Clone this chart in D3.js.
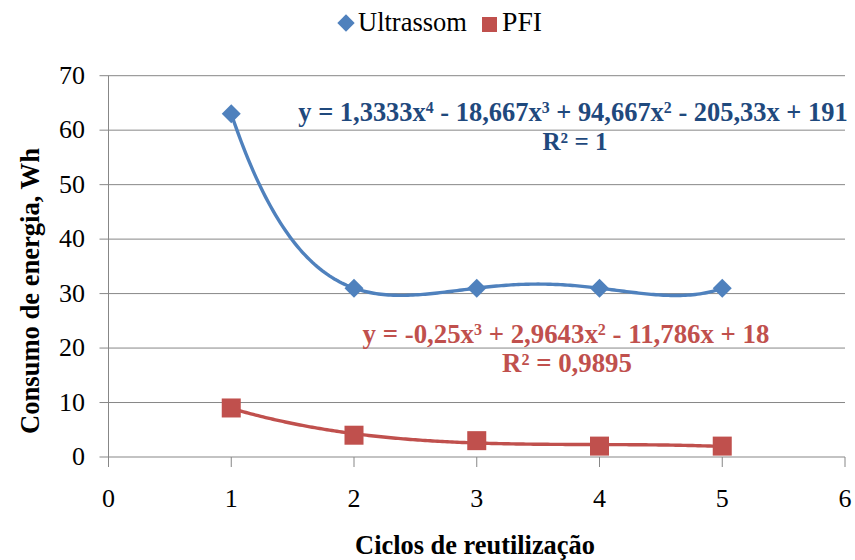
<!DOCTYPE html>
<html><head><meta charset="utf-8">
<script src="https://cdn.jsdelivr.net/npm/d3@7"></script>
<style>body{margin:0;background:#fff}svg{display:block}
text{font-family:"Liberation Serif","Times New Roman","DejaVu Serif",serif}</style>
</head><body>
<svg id="c" width="855" height="560"></svg>
<script>
const cycles = [1, 2, 3, 4, 5];
const ultrassom = [63, 31, 31, 31, 31];
const pfi = [9, 4, 3, 2, 2];
// trendline coefficients as shown in the chart equations (highest power first)
const ultraCoef = [1.3333, -18.667, 94.667, -205.33, 191];
const pfiCoef = [-0.25, 2.9643, -11.786, 18];
const xTicks = [0, 1, 2, 3, 4, 5, 6];
const yTicks = [0, 10, 20, 30, 40, 50, 60, 70];

function draw() {
const svg = d3.select("#c");
svg.selectAll("*").remove();
const x = d3.scaleLinear().domain([0, 6]).range([108.5, 845]);
const y = d3.scaleLinear().domain([0, 70]).range([457, 75.7]);
const grid = "#878787";

function fit(t, w, maxSize) {
  const cur = +t.attr("font-size");
  const len = t.node().getComputedTextLength();
  let s = cur * w / len;
  if (maxSize) s = Math.min(s, maxSize);
  t.attr("font-size", s);
  t.selectAll("tspan.sup").attr("font-size", s * 0.6);
  return t;
}

// common tick font size: "60" should be ~26px wide
const probe = svg.append("text").attr("font-size", 24).text("60");
const tickSize = Math.min(26, 24 * 26 / probe.node().getComputedTextLength());
probe.remove();

svg.append("g").selectAll("line").data(yTicks).join("line")
  .attr("x1", x(0) - 9).attr("x2", x(6))
  .attr("y1", d => y(d)).attr("y2", d => y(d))
  .attr("stroke", grid).attr("stroke-width", 1);
svg.append("line").attr("x1", x(0)).attr("x2", x(0)).attr("y1", y(70)).attr("y2", y(0)).attr("stroke", grid);
svg.append("g").selectAll("line").data(xTicks).join("line")
  .attr("x1", d => x(d)).attr("x2", d => x(d)).attr("y1", y(0)).attr("y2", y(0) + 10)
  .attr("stroke", grid);

svg.append("g").selectAll("text").data(yTicks).join("text")
  .attr("x", 85).attr("y", d => y(d) + 8)
  .attr("text-anchor", "end").attr("font-size", tickSize).attr("fill", "#000")
  .text(d => d);
svg.append("g").selectAll("text").data(xTicks).join("text")
  .attr("x", d => x(d)).attr("y", 507)
  .attr("text-anchor", "middle").attr("font-size", tickSize).attr("fill", "#000")
  .text(d => d);

fit(svg.append("text").attr("x", 475).attr("y", 554).attr("text-anchor", "middle")
  .attr("font-size", 24).attr("font-weight", "bold").text("Ciclos de reutilização"), 240);
fit(svg.append("text").attr("transform", "translate(39,291) rotate(-90)").attr("text-anchor", "middle")
  .attr("font-size", 24).attr("font-weight", "bold").text("Consumo de energia, Wh"), 286);

function poly(coef, v) { return coef.reduce((a, c) => a * v + c, 0); }
const xs = d3.range(1, 5.0001, 0.02);
const line = d3.line().x(d => x(d[0])).y(d => y(d[1]));
svg.append("path").datum(xs.map(v => [v, poly(ultraCoef, v)]))
  .attr("d", line).attr("fill", "none").attr("stroke", "#4F81BD").attr("stroke-width", 3.4);
svg.append("path").datum(xs.map(v => [v, poly(pfiCoef, v)]))
  .attr("d", line).attr("fill", "none").attr("stroke", "#C0504D").attr("stroke-width", 3.4);

svg.append("g").selectAll("path").data(cycles).join("path")
  .attr("transform", (d, i) => `translate(${x(d)},${y(ultrassom[i])}) rotate(45)`)
  .attr("d", d3.symbol().type(d3.symbolSquare).size(180)())
  .attr("fill", "#4F81BD");
svg.append("g").selectAll("rect").data(cycles).join("rect")
  .attr("x", d => x(d) - 9.5).attr("y", (d, i) => y(pfi[i]) - 9.5)
  .attr("width", 19).attr("height", 19).attr("fill", "#C0504D");

function eq(xc, yb, parts, color, w) {
  const t = svg.append("text").attr("x", xc).attr("y", yb).attr("text-anchor", "middle")
    .attr("font-size", 22).attr("font-weight", "bold").attr("fill", color);
  let raised = false;
  parts.forEach(p => {
    if (typeof p === "string") {
      t.append("tspan").attr("dy", raised ? 8 : 0).text(p);
      raised = false;
    } else {
      t.append("tspan").attr("class", "sup").attr("font-size", 14).attr("dy", -8).text(p.sup);
      raised = true;
    }
  });
  return fit(t, w);
}
eq(573, 121, ["y = 1,3333x", {sup: "4"}, " - 18,667x", {sup: "3"}, " + 94,667x", {sup: "2"}, " - 205,33x + 191"], "#1F497D", 551);
eq(575, 150, ["R² = 1"], "#1F497D", 65);
eq(566, 343, ["y = -0,25x", {sup: "3"}, " + 2,9643x", {sup: "2"}, " - 11,786x + 18"], "#C0504D", 408);
eq(567, 372, ["R² = 0,9895"], "#C0504D", 130);

svg.append("path").attr("transform", "translate(346,23) rotate(45)")
  .attr("d", d3.symbol().type(d3.symbolSquare).size(150)()).attr("fill", "#4F81BD");
fit(svg.append("text").attr("x", 358).attr("y", 31).attr("font-size", 24).text("Ultrassom"), 109);
svg.append("rect").attr("x", 482).attr("y", 17).attr("width", 15).attr("height", 15).attr("fill", "#C0504D");
fit(svg.append("text").attr("x", 502).attr("y", 31).attr("font-size", 24).text("PFI"), 40);
}

draw();
if (document.fonts && document.fonts.load) {
  Promise.all([
    document.fonts.load('24px "Liberation Serif"'),
    document.fonts.load('bold 24px "Liberation Serif"')
  ]).then(draw, draw);
}
</script>
</body></html>
